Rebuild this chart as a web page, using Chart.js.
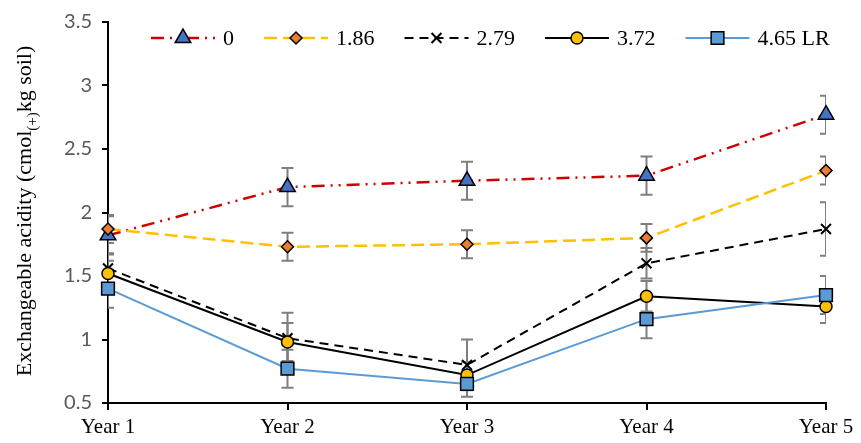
<!DOCTYPE html>
<html>
<head>
<meta charset="utf-8">
<script src="https://cdn.jsdelivr.net/npm/chart.js@4.4.0/dist/chart.umd.min.js"></script>
<style>
  html, body { margin: 0; padding: 0; background: #fff; }
  #wrap { width: 861px; height: 443px; }
</style>
</head>
<body>
<div id="wrap"><canvas id="myChart"></canvas></div>
<script>
const labels = ['Year 1', 'Year 2', 'Year 3', 'Year 4', 'Year 5'];
const seriesNames = ['0', '1.86', '2.79', '3.72', '4.65 LR'];

// exchangeable acidity per lime rate
const lr0   = [1.82, 2.20, 2.25, 2.29, 2.77];
const lr186 = [1.87, 1.73, 1.75, 1.80, 2.33];
const lr279 = [1.56, 1.01, 0.80, 1.60, 1.87];
const lr372 = [1.52, 0.98, 0.72, 1.34, 1.26];
const lr465 = [1.40, 0.77, 0.65, 1.16, 1.35];

// error bar half-lengths
const err0   = [0.15, 0.15, 0.15, 0.15, 0.15];
const err186 = [0.11, 0.11, 0.11, 0.11, 0.11];
const err279 = [0.12, 0.20, 0.20, 0.12, 0.21];
const err372 = [0.10, 0.15, 0.10, 0.12, 0.13];
const err465 = [0.15, 0.15, 0.10, 0.15, 0.15];

const yTicks = [0.5, 1, 1.5, 2, 2.5, 3, 3.5];

const SERIF = '"Liberation Serif", "DejaVu Serif", serif';
const SANS = '"Liberation Sans Narrow", Lato, "Liberation Sans", sans-serif';

const data = {
    labels: labels,
    datasets: [
        {
            label: seriesNames[0], data: lr0, errors: err0, order: 5,
            borderColor: '#D00000', borderWidth: 2.5, borderDash: [13, 6, 2, 6, 2, 6],
            pointStyle: 'triangle', pointRadius: 9, pointBackgroundColor: '#4472C4',
            pointBorderColor: '#000', pointBorderWidth: 1.5
        },
        {
            label: seriesNames[1], data: lr186, errors: err186, order: 4,
            borderColor: '#FFC000', borderWidth: 2.5, borderDash: [13, 6],
            pointStyle: 'rectRot', pointRadius: 6, pointBackgroundColor: '#ED7D31',
            pointBorderColor: '#000', pointBorderWidth: 1.5
        },
        {
            label: seriesNames[2], data: lr279, errors: err279, order: 3,
            borderColor: '#000', borderWidth: 2, borderDash: [9, 6],
            pointStyle: 'crossRot', pointRadius: 7, pointBackgroundColor: '#000',
            pointBorderColor: '#000', pointBorderWidth: 2
        },
        {
            label: seriesNames[3], data: lr372, errors: err372, order: 2,
            borderColor: '#000', borderWidth: 2,
            pointStyle: 'circle', pointRadius: 6, pointBackgroundColor: '#FFC000',
            pointBorderColor: '#000', pointBorderWidth: 1.5
        },
        {
            label: seriesNames[4], data: lr465, errors: err465, order: 1,
            borderColor: '#5B9BD5', borderWidth: 2,
            pointStyle: 'rect', pointRadius: 9, pointBackgroundColor: '#5B9BD5',
            pointBorderColor: '#000', pointBorderWidth: 1.5
        }
    ]
};

// error bars, drawn under the lines and clipped to the plot
const errorBars = {
    id: 'errorBars',
    beforeDatasetsDraw(chart) {
        const { ctx, chartArea, scales: { y } } = chart;
        ctx.save();
        ctx.beginPath();
        ctx.rect(chartArea.left, chartArea.top, chartArea.right - chartArea.left, chartArea.bottom - chartArea.top);
        ctx.clip();
        ctx.strokeStyle = '#7F7F7F';
        ctx.lineWidth = 2;
        chart.data.datasets.forEach((ds, i) => {
            const meta = chart.getDatasetMeta(i);
            meta.data.forEach((pt, j) => {
                const top = y.getPixelForValue(ds.data[j] + ds.errors[j]);
                const bot = y.getPixelForValue(ds.data[j] - ds.errors[j]);
                ctx.beginPath();
                ctx.moveTo(pt.x, top); ctx.lineTo(pt.x, bot);
                ctx.moveTo(pt.x - 6, top); ctx.lineTo(pt.x + 6, top);
                ctx.moveTo(pt.x - 6, bot); ctx.lineTo(pt.x + 6, bot);
                ctx.stroke();
            });
        });
        ctx.restore();
    }
};

// legend inside the plot: line + marker + text
const lineLegend = {
    id: 'lineLegend',
    afterDraw(chart) {
        const ctx = chart.ctx;
        let x = 151;
        const yc = 38;
        ctx.save();
        ctx.font = '22px ' + SERIF;
        ctx.textBaseline = 'middle';
        chart.data.datasets.forEach(ds => {
            ctx.strokeStyle = ds.borderColor;
            ctx.lineWidth = ds.borderWidth;
            ctx.setLineDash(ds.borderDash || []);
            ctx.beginPath();
            ctx.moveTo(x, yc); ctx.lineTo(x + 64, yc);
            ctx.stroke();
            ctx.setLineDash([]);
            ctx.fillStyle = ds.pointBackgroundColor;
            ctx.strokeStyle = ds.pointBorderColor;
            ctx.lineWidth = ds.pointBorderWidth;
            Chart.helpers.drawPoint(ctx, {
                pointStyle: ds.pointStyle, radius: ds.pointRadius, rotation: 0, borderWidth: ds.pointBorderWidth
            }, x + 32, yc);
            ctx.fillStyle = '#000';
            ctx.fillText(ds.label, x + 72, yc + 1);
            x += 72 + ctx.measureText(ds.label).width + 30;
        });
        ctx.restore();
    }
};

// rotated y title with (+) subscript
const yTitle = {
    id: 'yTitle',
    afterDraw(chart) {
        const ctx = chart.ctx;
        const a = 'Exchangeable acidity (cmol', sub = '(+)', b = 'kg soil)';
        ctx.save();
        ctx.translate(25, 211);
        ctx.rotate(-Math.PI / 2);
        ctx.fillStyle = '#000';
        ctx.textBaseline = 'middle';
        ctx.font = '22px ' + SERIF;
        const wa = ctx.measureText(a).width, wb = ctx.measureText(b).width;
        ctx.font = '15px ' + SERIF;
        const ws = ctx.measureText(sub).width;
        let x0 = -(wa + ws + wb) / 2;
        ctx.font = '22px ' + SERIF;
        ctx.fillText(a, x0, 0);
        ctx.font = '15px ' + SERIF;
        ctx.fillText(sub, x0 + wa, 8);
        ctx.font = '22px ' + SERIF;
        ctx.fillText(b, x0 + wa + ws, 0);
        ctx.restore();
    }
};

const config = {
    type: 'line',
    data: data,
    options: {
        responsive: true,
        maintainAspectRatio: false,
        animation: false,
        layout: { padding: { top: 20, right: 35, left: 0, bottom: 0 } },
        elements: { line: { tension: 0, fill: false } },
        datasets: { line: { clip: false } },
        plugins: {
            legend: { display: false },
            tooltip: { enabled: false }
        },
        scales: {
            x: {
                offset: false,
                grid: { drawOnChartArea: false, color: '#000', lineWidth: 2, tickLength: 7, offset: false },
                border: { color: '#000', width: 2 },
                ticks: { color: '#000', font: { family: SERIF, size: 21 }, padding: 5, maxRotation: 0, autoSkip: false },
                afterFit: s => { s.height = 40; }
            },
            y: {
                min: 0.5,
                max: 3.5,
                afterBuildTicks: s => { s.ticks = yTicks.map(v => ({ value: v })); },
                grid: { drawOnChartArea: false, color: '#000', lineWidth: 2, tickLength: 6 },
                border: { color: '#000', width: 2 },
                ticks: { color: '#595959', font: { family: SANS, size: 20 }, padding: 10, callback: v => String(v) },
                afterFit: s => { s.width = 108; }
            }
        }
    },
    plugins: [errorBars, lineLegend, yTitle]
};

// Render the chart
const myChart = new Chart(document.getElementById('myChart'), config);
</script>
</body>
</html>
